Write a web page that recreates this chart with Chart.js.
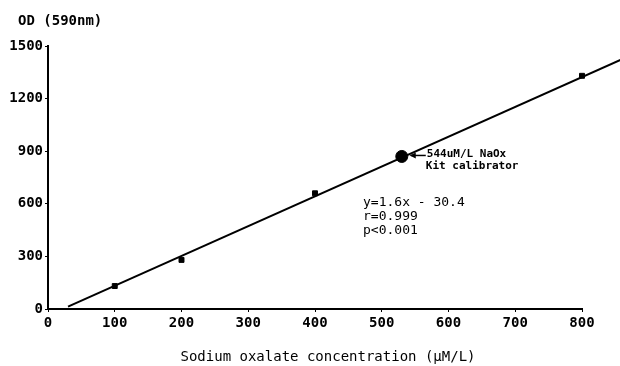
<!DOCTYPE html>
<html>
<head>
<meta charset="utf-8">
<script src="https://cdn.jsdelivr.net/npm/chart.js@4.4.1/dist/chart.umd.min.js"></script>
<style>
  html, body { margin: 0; padding: 0; background: #fff; }
  #wrap { width: 620px; height: 366px; position: relative; }
</style>
</head>
<body>
<div id="wrap"><canvas id="chart"></canvas></div>
<script>
// data
const concentrations = [100, 200, 400, 800];
const odValues = [131, 280, 660, 1330];
const calibratorX = [530];
const calibratorY = [870];
const fitX = [30, 860];
const fitY = [14, 1425];
const xTicks = [0, 100, 200, 300, 400, 500, 600, 700, 800];
const yTicks = [0, 300, 600, 900, 1200, 1500];

const mono = "'DejaVu Sans Mono', 'Liberation Mono', monospace";

// free text on the plot
const notes = {
  id: 'notes',
  afterDraw(chart) {
    const c = chart.ctx;
    const x = chart.scales.x, y = chart.scales.y;
    c.save();
    c.fillStyle = '#000';
    c.strokeStyle = '#000';
    c.textBaseline = 'middle';

    c.font = 'bold 14px ' + mono;
    c.fillText('OD (590nm)', 18, 21);

    // x axis title
    c.font = '14px ' + mono;
    c.textAlign = 'center';
    c.fillText('Sodium oxalate concentration (\u03bcM/L)', 328, 357);
    c.textAlign = 'left';

    // calibrator label + arrow
    const px = x.getPixelForValue(calibratorX[0]);
    const py = y.getPixelForValue(calibratorY[0]);
    c.lineWidth = 1.5;
    c.beginPath();
    c.moveTo(px + 24, py - 1);
    c.lineTo(px + 9, py - 1);
    c.stroke();
    c.beginPath();
    c.moveTo(px + 8, py - 1);
    c.lineTo(px + 14, py - 4);
    c.lineTo(px + 14, py + 2);
    c.closePath();
    c.fill();
    c.font = 'bold 11px ' + mono;
    c.fillText('544uM/L NaOx', px + 25, py - 2);
    c.fillText('Kit calibrator', px + 24, py + 10);

    // regression stats
    c.font = '13px ' + mono;
    c.fillText('y=1.6x - 30.4', 363, 203);
    c.fillText('r=0.999', 363, 217);
    c.fillText('p<0.001', 363, 231);
    c.restore();
  }
};

new Chart(document.getElementById('chart'), {
  type: 'scatter',
  data: {
    datasets: [
      {
        data: concentrations.map((v, i) => ({ x: v, y: odValues[i] })),
        pointStyle: 'rect',
        pointRadius: 3.5,
        backgroundColor: '#000',
        borderColor: '#000',
        clip: false
      },
      {
        data: calibratorX.map((v, i) => ({ x: v, y: calibratorY[i] })),
        pointRadius: 6,
        backgroundColor: '#000',
        borderColor: '#000',
        clip: false
      },
      {
        data: fitX.map((v, i) => ({ x: v, y: fitY[i] })),
        showLine: true,
        borderColor: '#000',
        borderWidth: 2,
        pointRadius: 0,
        clip: false
      }
    ]
  },
  options: {
    responsive: true,
    maintainAspectRatio: false,
    animation: false,
    layout: { padding: { top: 46, right: 38, left: 0, bottom: 0 } },
    plugins: { legend: { display: false }, tooltip: { enabled: false } },
    scales: {
      x: {
        type: 'linear',
        min: 0,
        max: 800,
        afterBuildTicks: axis => { axis.ticks = xTicks.map(v => ({ value: v })); },
        afterFit: axis => { axis.height = 57; },
        border: { color: '#000', width: 2 },
        grid: { drawOnChartArea: false, color: '#000', tickLength: 3 },
        ticks: { color: '#000', padding: 3, font: { family: mono, size: 14, weight: 'bold' }, callback: v => String(v) }
      },
      y: {
        min: 0,
        max: 1500,
        afterBuildTicks: axis => { axis.ticks = yTicks.map(v => ({ value: v })); },
        afterFit: axis => { axis.width = 48; },
        border: { color: '#000', width: 2 },
        grid: { drawOnChartArea: false, color: '#000', tickLength: 3 },
        ticks: { color: '#000', padding: 2, font: { family: mono, size: 14, weight: 'bold' }, callback: v => String(v) }
      }
    }
  },
  plugins: [notes]
});
</script>
</body>
</html>
